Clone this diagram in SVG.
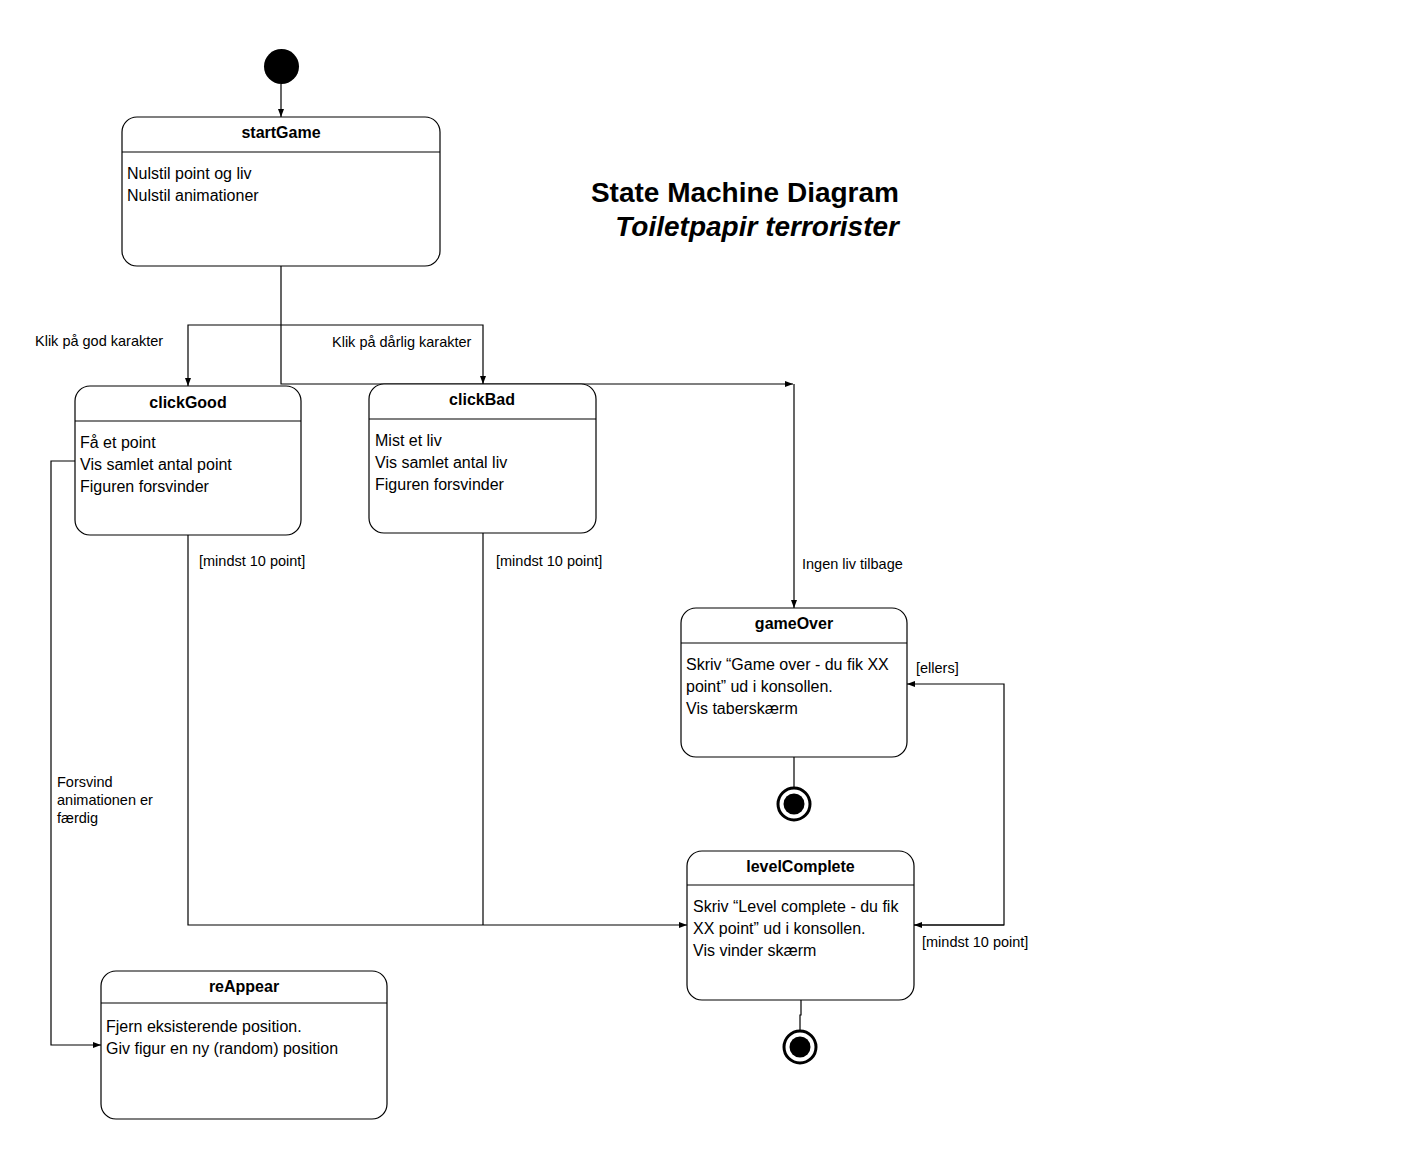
<svg xmlns="http://www.w3.org/2000/svg" width="1415" height="1153" viewBox="0 0 1415 1153">
<style>
.box{fill:#fff;stroke:#000;stroke-width:1.2}
.div{stroke:#000;stroke-width:1.2}
.t{font-family:"Liberation Sans",Arial,sans-serif;font-size:16px;font-weight:bold;text-anchor:middle;fill:#000}
.b{font-family:"Liberation Sans",Arial,sans-serif;font-size:16px;fill:#000}
.l{font-family:"Liberation Sans",Arial,sans-serif;font-size:14.5px;fill:#000}
.c{fill:none;stroke:#000;stroke-width:1.2}
.h{font-family:"Liberation Sans",Arial,sans-serif;font-size:28px;font-weight:bold;text-anchor:end;fill:#000}
</style>
<defs>
<marker id="arr" viewBox="0 0 8 6" refX="8" refY="3" markerWidth="8" markerHeight="6" markerUnits="userSpaceOnUse" orient="auto">
<path d="M0,0 L8,3 L0,6 Z" fill="#000"/>
</marker>
</defs>
<rect width="1415" height="1153" fill="#fff"/>

<g id="title">
<text class="h" x="899" y="202">State Machine Diagram</text>
<text class="h" x="899" y="236" font-style="italic">Toiletpapir terrorister</text>
</g>

<g id="connectors">
<line class="c" x1="281" y1="84" x2="281" y2="117" marker-end="url(#arr)"/>
<polyline class="c" points="281,266 281,384 793,384" marker-end="url(#arr)"/>
<polyline class="c" points="281,325 188,325 188,386" marker-end="url(#arr)"/>
<polyline class="c" points="281,325 483,325 483,384" marker-end="url(#arr)"/>
<line class="c" x1="794" y1="384" x2="794" y2="608" marker-end="url(#arr)"/>
<polyline class="c" points="75,461 51,461 51,1045 101,1045" marker-end="url(#arr)"/>
<polyline class="c" points="188,535 188,925 687,925" marker-end="url(#arr)"/>
<line class="c" x1="483" y1="533" x2="483" y2="925"/>
<polyline class="c" points="914,925 1004,925 1004,684 907,684" marker-end="url(#arr)"/>
<line class="c" x1="1004" y1="925" x2="914" y2="925" marker-end="url(#arr)"/>
<line class="c" x1="794" y1="757" x2="794" y2="787"/>
<polyline class="c" points="801,1000 801,1015 800,1015 800,1030"/>
<text class="l" x="35" y="346">Klik på god karakter</text>
<text class="l" x="332" y="347">Klik på dårlig karakter</text>
<text class="l" x="199" y="566">[mindst 10 point]</text>
<text class="l" x="496" y="566">[mindst 10 point]</text>
<text class="l" x="802" y="569">Ingen liv tilbage</text>
<text class="l" x="916" y="673">[ellers]</text>
<text class="l" x="922" y="947">[mindst 10 point]</text>
<text class="l" x="57" y="787">Forsvind</text>
<text class="l" x="57" y="805">animationen er</text>
<text class="l" x="57" y="823">færdig</text>
</g>

<g id="initial">
<circle cx="281.5" cy="66.5" r="17.5" fill="#000"/>
</g>

<g id="startGame">
<rect class="box" x="122" y="117" width="318" height="149" rx="15"/>
<line class="div" x1="122" y1="152" x2="440" y2="152"/>
<text class="t" x="281" y="138">startGame</text>
<text class="b" x="127" y="179">Nulstil point og liv</text>
<text class="b" x="127" y="201">Nulstil animationer</text>
</g>

<g id="clickGood">
<rect class="box" x="75" y="386" width="226" height="149" rx="15"/>
<line class="div" x1="75" y1="421" x2="301" y2="421"/>
<text class="t" x="188" y="408">clickGood</text>
<text class="b" x="80" y="448">Få et point</text>
<text class="b" x="80" y="470">Vis samlet antal point</text>
<text class="b" x="80" y="492">Figuren forsvinder</text>
</g>

<g id="clickBad">
<rect class="box" x="369" y="384" width="227" height="149" rx="15"/>
<line class="div" x1="369" y1="419" x2="596" y2="419"/>
<text class="t" x="482" y="405">clickBad</text>
<text class="b" x="375" y="446">Mist et liv</text>
<text class="b" x="375" y="468">Vis samlet antal liv</text>
<text class="b" x="375" y="490">Figuren forsvinder</text>
</g>

<g id="gameOver">
<rect class="box" x="681" y="608" width="226" height="149" rx="15"/>
<line class="div" x1="681" y1="643" x2="907" y2="643"/>
<text class="t" x="794" y="629">gameOver</text>
<text class="b" x="686" y="670">Skriv “Game over - du fik XX</text>
<text class="b" x="686" y="692">point” ud i konsollen.</text>
<text class="b" x="686" y="714">Vis taberskærm</text>
</g>

<g id="final1">
<circle cx="794" cy="804" r="16" fill="#fff" stroke="#000" stroke-width="3"/>
<circle cx="794" cy="804" r="10.5" fill="#000"/>
</g>

<g id="levelComplete">
<rect class="box" x="687" y="851" width="227" height="149" rx="15"/>
<line class="div" x1="687" y1="885" x2="914" y2="885"/>
<text class="t" x="800.5" y="872">levelComplete</text>
<text class="b" x="693" y="912">Skriv “Level complete - du fik</text>
<text class="b" x="693" y="934">XX point” ud i konsollen.</text>
<text class="b" x="693" y="956">Vis vinder skærm</text>
</g>

<g id="final2">
<circle cx="800" cy="1047" r="16" fill="#fff" stroke="#000" stroke-width="3"/>
<circle cx="800" cy="1047" r="10.5" fill="#000"/>
</g>

<g id="reAppear">
<rect class="box" x="101" y="971" width="286" height="148" rx="15"/>
<line class="div" x1="101" y1="1003" x2="387" y2="1003"/>
<text class="t" x="244" y="992">reAppear</text>
<text class="b" x="106" y="1032">Fjern eksisterende position.</text>
<text class="b" x="106" y="1054">Giv figur en ny (random) position</text>
</g>
</svg>
